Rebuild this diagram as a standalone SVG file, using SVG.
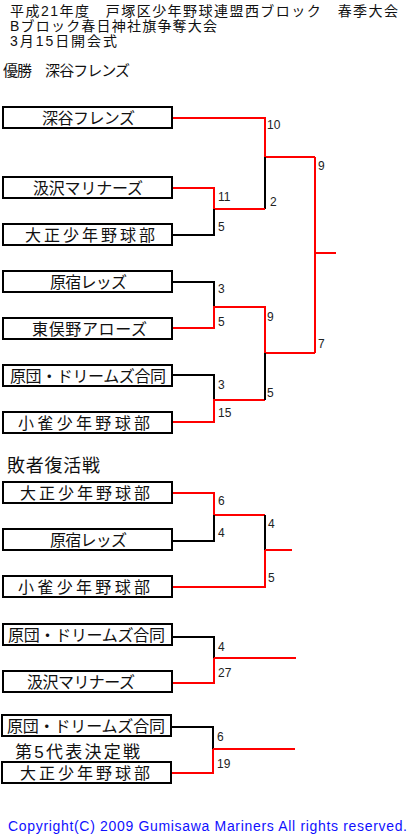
<svg xmlns="http://www.w3.org/2000/svg" width="411" height="837" viewBox="0 0 411 837">
<style>
text{font-family:"Liberation Sans","Noto Sans CJK JP",sans-serif;fill:#111}
.t{font-size:14px}
.b rect{fill:#fff;stroke:#000;stroke-width:2}
.b text{font-size:16px}
.n{font-size:12px;fill:#222}
.r{stroke:#f00;stroke-width:2;fill:none}
.k{stroke:#000;stroke-width:2;fill:none}
.c{font-size:14px;fill:#1010ff}
</style>
<rect width="411" height="837" fill="#fff"/>
<g id="title">
<text class="t" x="10" y="16" textLength="388">平成21年度　戸塚区少年野球連盟西ブロック　春季大会</text>
<text class="t" x="10" y="31" textLength="207">Bブロック春日神社旗争奪大会</text>
<text class="t" x="10" y="46" textLength="107">3月15日開会式</text>
<text x="3" y="76" style="font-size:15px" textLength="127">優勝　深谷フレンズ</text>
</g>
<g id="connectors">
<path class="r" d="M173 118H265V157H315M315 157V353M315 253H336"/>
<path class="k" d="M265 157V209"/>
<path class="r" d="M173 188H214V209H265"/>
<path class="k" d="M173 235H214V209"/>
<path class="k" d="M173 282H214V307"/>
<path class="r" d="M173 328H214V307H265V353H315"/>
<path class="k" d="M173 375H214V400"/>
<path class="r" d="M173 422H214V400H265"/>
<path class="k" d="M265 353V400"/>
<path class="r" d="M173 493H214V515H265"/>
<path class="k" d="M173 541H214V515M265 515V550"/>
<path class="r" d="M265 550H292M265 550V587H173"/>
<path class="k" d="M173 637H214V658"/>
<path class="r" d="M214 658H296M214 658V683H173"/>
<path class="k" d="M172 727H213V749"/>
<path class="r" d="M213 749H295M213 749V773H172"/>
</g>
<g id="n1" class="b"><rect x="3" y="107" width="169" height="21"/><text x="42" y="124" textLength="93">深谷フレンズ</text></g>
<g id="n2" class="b"><rect x="3" y="177" width="169" height="21"/><text x="33" y="194" textLength="110">汲沢マリナーズ</text></g>
<g id="n3" class="b"><rect x="3" y="224" width="169" height="21"/><text x="25" y="241" textLength="130">大正少年野球部</text></g>
<g id="n4" class="b"><rect x="3" y="271" width="169" height="21"/><text x="50" y="288" textLength="77">原宿レッズ</text></g>
<g id="n5" class="b"><rect x="3" y="318" width="169" height="21"/><text x="32" y="335" textLength="115">東俣野アローズ</text></g>
<g id="n6" class="b"><rect x="3" y="365" width="169" height="21"/><text x="10" y="382" textLength="156">原団・ドリームズ合同</text></g>
<g id="n7" class="b"><rect x="3" y="412" width="169" height="21"/><text x="18" y="429" textLength="132">小雀少年野球部</text></g>
<text id="losers" x="7" y="472" style="font-size:18px" textLength="93">敗者復活戦</text>
<g id="n8" class="b"><rect x="3" y="482" width="169" height="21"/><text x="20" y="499" textLength="130">大正少年野球部</text></g>
<g id="n9" class="b"><rect x="3" y="529" width="169" height="21"/><text x="50" y="546" textLength="77">原宿レッズ</text></g>
<g id="n10" class="b"><rect x="3" y="576" width="169" height="21"/><text x="18" y="593" textLength="132">小雀少年野球部</text></g>
<g id="n11" class="b"><rect x="3" y="624" width="169" height="21"/><text x="8" y="641" textLength="157">原団・ドリームズ合同</text></g>
<g id="n12" class="b"><rect x="3" y="671" width="169" height="21"/><text x="27" y="688" textLength="108">汲沢マリナーズ</text></g>
<g id="n13" class="b"><rect x="2" y="715" width="169" height="21"/><text x="7" y="732" textLength="158">原団・ドリームズ合同</text></g>
<text id="fifth" x="15" y="758" style="font-size:17px" textLength="125">第5代表決定戦</text>
<g id="n14" class="b"><rect x="2" y="762" width="169" height="21"/><text x="20" y="779" textLength="130">大正少年野球部</text></g>
<g id="scores">
<text class="n" x="267" y="129">10</text>
<text class="n" x="318" y="170">9</text>
<text class="n" x="218" y="201">11</text>
<text class="n" x="218" y="231">5</text>
<text class="n" x="270" y="206">2</text>
<text class="n" x="218" y="293">3</text>
<text class="n" x="218" y="326">5</text>
<text class="n" x="267" y="321">9</text>
<text class="n" x="318" y="348">7</text>
<text class="n" x="218" y="389">3</text>
<text class="n" x="218" y="417">15</text>
<text class="n" x="267" y="397">5</text>
<text class="n" x="218" y="505">6</text>
<text class="n" x="218" y="537">4</text>
<text class="n" x="268" y="528">4</text>
<text class="n" x="268" y="582">5</text>
<text class="n" x="218" y="651">4</text>
<text class="n" x="218" y="677">27</text>
<text class="n" x="217" y="741">6</text>
<text class="n" x="217" y="768">19</text>
</g>
<text class="c" x="8" y="831" textLength="399">Copyright(C) 2009 Gumisawa Mariners All rights reserved.</text>
</svg>
